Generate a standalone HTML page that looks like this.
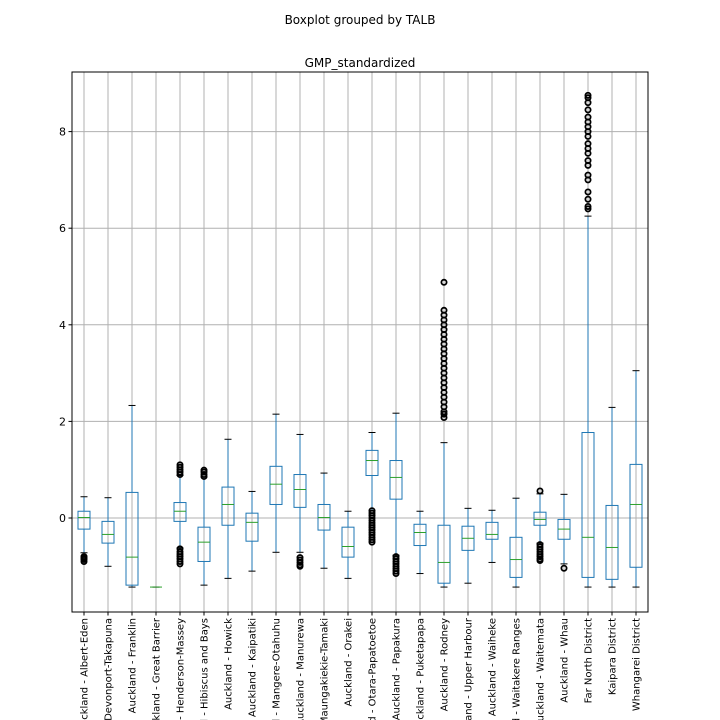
<!DOCTYPE html>
<html><head><meta charset="utf-8"><style>
html,body{margin:0;background:#fff;width:720px;height:720px;overflow:hidden}
svg{display:block;font-family:"DejaVu Sans","Liberation Sans",sans-serif}
</style></head><body>
<svg id="chart" width="720" height="720">
<text x="360" y="24" text-anchor="middle" font-size="12">Boxplot grouped by TALB</text>
<text x="360" y="67" text-anchor="middle" font-size="12">GMP_standardized</text>
<g id="grid"></g><g id="marks"></g><g id="ticks"></g>
<rect x="72" y="72" width="576" height="540" fill="none" stroke="#000" stroke-width="1"/>
</svg>
<script>
const categories=["Auckland - Albert-Eden","Auckland - Devonport-Takapuna","Auckland - Franklin","Auckland - Great Barrier","Auckland - Henderson-Massey","Auckland - Hibiscus and Bays","Auckland - Howick","Auckland - Kaipatiki","Auckland - Mangere-Otahuhu","Auckland - Manurewa","Auckland - Maungakiekie-Tamaki","Auckland - Orakei","Auckland - Otara-Papatoetoe","Auckland - Papakura","Auckland - Puketapapa","Auckland - Rodney","Auckland - Upper Harbour","Auckland - Waiheke","Auckland - Waitakere Ranges","Auckland - Waitemata","Auckland - Whau","Far North District","Kaipara District","Whangarei District"];
const whiskerLow=[-0.72,-1.0,-1.43,-1.43,-0.62,-1.39,-1.25,-1.1,-0.71,-0.71,-1.04,-1.25,0.15,-0.77,-1.15,-1.43,-1.35,-0.92,-1.43,-0.52,-0.95,-1.43,-1.43,-1.43];
const q1=[-0.23,-0.52,-1.39,-1.43,-0.07,-0.9,-0.15,-0.48,0.28,0.22,-0.25,-0.81,0.88,0.39,-0.57,-1.35,-0.67,-0.44,-1.23,-0.15,-0.44,-1.23,-1.27,-1.02];
const medians=[0.01,-0.34,-0.81,-1.43,0.14,-0.5,0.28,-0.09,0.7,0.59,0.01,-0.59,1.19,0.84,-0.3,-0.92,-0.42,-0.34,-0.86,-0.03,-0.23,-0.4,-0.61,0.28];
const q3=[0.14,-0.07,0.53,-1.43,0.32,-0.19,0.64,0.1,1.07,0.9,0.28,-0.19,1.4,1.19,-0.13,-0.15,-0.17,-0.09,-0.4,0.12,-0.03,1.77,0.26,1.11];
const whiskerHigh=[0.44,0.42,2.33,-1.43,0.88,0.85,1.63,0.55,2.15,1.73,0.93,0.14,1.77,2.17,0.14,1.56,0.2,0.16,0.41,0.5,0.49,6.25,2.29,3.05];
const outliers=[
[-0.8,-0.83,-0.86,-0.9],[],[],[],
[0.9,0.95,1.0,1.05,1.1,-0.64,-0.7,-0.75,-0.8,-0.85,-0.9,-0.95],
[0.86,0.9,0.95,0.99],[],[],[],[-0.82,-0.87,-0.92,-0.97,-1.0],[],[],
[0.15,0.1,0.05,0.0,-0.05,-0.1,-0.15,-0.2,-0.25,-0.3,-0.35,-0.4,-0.45,-0.5],
[-0.8,-0.85,-0.9,-0.95,-1.0,-1.05,-1.1,-1.15],[],
[2.08,2.15,2.2,2.3,2.4,2.5,2.6,2.7,2.8,2.9,3.0,3.1,3.2,3.3,3.4,3.5,3.6,3.7,3.8,3.9,4.0,4.1,4.2,4.3,4.88],
[],[],[],
[0.56,-0.55,-0.6,-0.65,-0.7,-0.75,-0.8,-0.85,-0.88],
[-1.04],
[6.4,6.45,6.6,6.75,7.0,7.1,7.3,7.4,7.55,7.65,7.75,7.9,8.0,8.1,8.2,8.3,8.45,8.6,8.7,8.75],
[],[]];
const yTicks=[0,2,4,6,8];

const NS="http://www.w3.org/2000/svg";
const L=72,R=648,T=72,B=612;
const yScale=v=>518-v*48.3;
const step=(R-L)/categories.length;
const xScale=i=>L+step*(i+0.5);
function mk(tag,attrs,parent){const e=document.createElementNS(NS,tag);for(const k in attrs)e.setAttribute(k,attrs[k]);parent.appendChild(e);return e;}
const grid=document.getElementById('grid'),marks=document.getElementById('marks'),ticks=document.getElementById('ticks');
yTicks.forEach(t=>{
 const y=yScale(t);
 const g=mk('line',{x1:L,x2:R,y1:y,y2:y,stroke:'#b0b0b0','stroke-width':1},grid);
 
 
 const tk=mk('line',{x1:L-3.5,x2:L,y1:y,y2:y,stroke:'#000'},ticks);
 
 
 const tx=mk('text',{x:L-6,y:y+4,'text-anchor':'end','font-size':11},ticks);
 tx.textContent=t;
 
 
});
categories.forEach((c,i)=>{
 const x=xScale(i);
 const g=mk('line',{x1:x,x2:x,y1:T,y2:B,stroke:'#b0b0b0','stroke-width':1},grid);
 
 
 const tk=mk('line',{x1:x,x2:x,y1:B,y2:B+3.5,stroke:'#000'},ticks);
 
 
 const tx=mk('text',{x:0,y:0,'text-anchor':'end','font-size':10,transform:`translate(${x+3.5},${B+6}) rotate(-90)`},ticks);
 tx.textContent=c;
 
 
 const grp=mk('g',{},marks);
 
 
 const hw=6,cw=3.5;
 mk('line',{x1:x,x2:x,y1:yScale(q3[i]),y2:yScale(whiskerHigh[i]),stroke:'#1f77b4'},grp);
 mk('line',{x1:x,x2:x,y1:yScale(q1[i]),y2:yScale(whiskerLow[i]),stroke:'#1f77b4'},grp);
 mk('line',{x1:x-cw,x2:x+cw,y1:yScale(whiskerHigh[i]),y2:yScale(whiskerHigh[i]),stroke:'#000'},grp);
 mk('line',{x1:x-cw,x2:x+cw,y1:yScale(whiskerLow[i]),y2:yScale(whiskerLow[i]),stroke:'#000'},grp);
 const top=yScale(q3[i]),bot=yScale(q1[i]);
 mk('rect',{x:x-hw,y:top,width:hw*2,height:Math.max(0,bot-top),fill:'none',stroke:'#1f77b4'},grp);
 mk('line',{x1:x-hw,x2:x+hw,y1:yScale(medians[i]),y2:yScale(medians[i]),stroke:'#2ca02c'},grp);
 outliers[i].forEach(v=>{
  const o=mk('circle',{cx:x,cy:yScale(v),r:2.6,fill:'none',stroke:'#000','stroke-width':1.8},grp);
  
  
 });
});
</script>
</body></html>
